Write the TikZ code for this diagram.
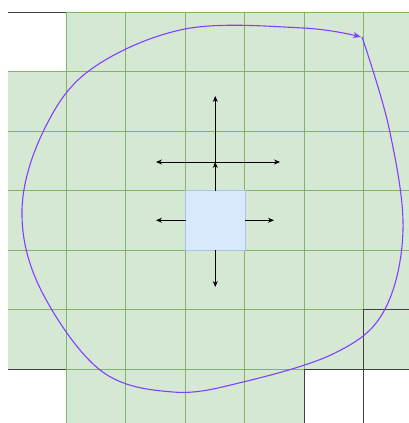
\documentclass[tikz,border=0pt]{standalone}
\usepackage{xcolor}
\usepackage{tikz}
\usetikzlibrary{arrows.meta}
\definecolor{cellfill}{HTML}{D5E8D4}
\definecolor{cellline}{HTML}{82B366}
\definecolor{sqfill}{HTML}{DAE8FC}
\definecolor{sqline}{HTML}{A9C4EB}
\definecolor{wall}{HTML}{404040}
\definecolor{routec}{HTML}{8040FF}
\tikzset{
  cell/.style={fill=cellfill, draw=cellline, line width=0.8pt},
  wallline/.style={draw=wall, line width=0.9pt},
  robot/.style={draw=sqline, fill=sqfill, minimum size=59.5pt, inner sep=0pt, outer sep=0pt, line width=0.8pt},
  move/.style={-{Stealth[length=6pt,width=5pt]}, line width=0.8pt},
  route/.style={draw=routec, line width=1.1pt, -{Stealth[length=8pt,width=6pt]}},
}
\newcommand{\grid}[2]{%
  \foreach \r in {0,...,#1} {%
    \foreach \c in {0,...,#2} {%
      \pgfmathtruncatemacro\hole{(\r==0 && \c==0) || (\r==6 && (\c==0 || \c>=5))}%
      \ifnum\hole=0
        \path[cell] ({6.5+59.5*\c},{12+59.5*\r}) rectangle +(59.5,59.5);
      \fi
    }}}

\begin{document}
\begin{tikzpicture}[x=1pt,y=-1pt]
  \useasboundingbox (0,0) rectangle (409,423);
  \begin{scope}
    \clip (8,12) rectangle (409,423);
    \grid{6}{6}
  \end{scope}
  \draw[wallline] (8,12) -- (66,12);
  \draw[wallline] (8,369) -- (66,369);
  \draw[wallline] (304,423) -- (304,369) -- (409,369);
  \draw[wallline] (363.5,423) -- (363.5,309.5) -- (409,309.5);
  \node[robot] (sq) at (215.25,220.25) {};
  \coordinate (hub) at (215.25,162);
  \coordinate (fwd) at (215.25,96);
  \coordinate (hl) at (156,162);
  \coordinate (hr) at (280,162);
  \coordinate (sl) at (156,220.25);
  \coordinate (sr) at (274,220.25);
  \coordinate (bk) at (215.25,287);
  \draw[move] (sq.north) -- (hub);
  \draw[move] (hub) -- (fwd);
  \draw[move] (hub) -- (hl);
  \draw[move] (hub) -- (hr);
  \draw[move] (sq.west) -- (sl);
  \draw[move] (sq.east) -- (sr);
  \draw[move] (sq.south) -- (bk);
  \draw[route] plot[smooth, tension=0.6] coordinates {
    (362,37) (389,128) (403,230) (384,311) (335,353) (243,382) (173,392)
    (100,370) (40,288) (22,210) (43,132) (90,70) (185,29) (303,28) (361,37)};
\end{tikzpicture}
\end{document}
